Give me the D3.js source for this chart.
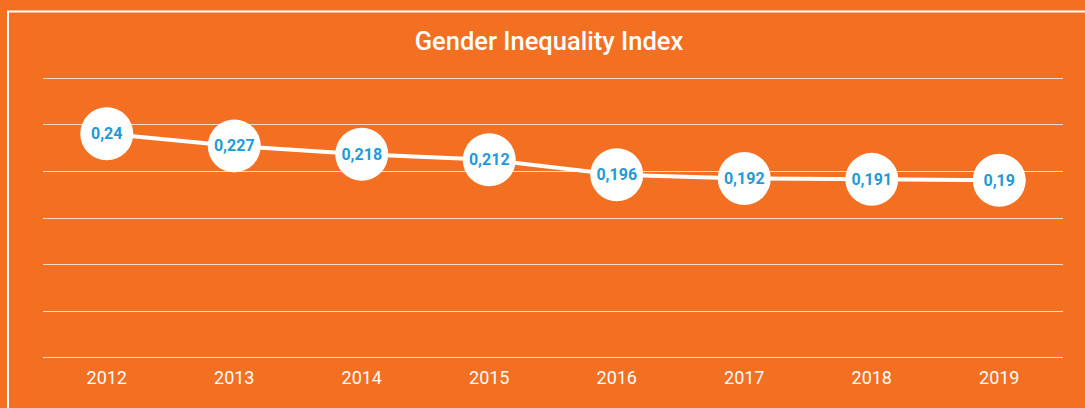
<!DOCTYPE html>
<meta charset='utf-8'>
<style>
  body { margin:0; background:#f36f21; }
  svg { display:block; font-family:Roboto, 'Open Sans', sans-serif; }
  .grid line { stroke:#fff; stroke-width:1px; stroke-opacity:.75; }
  .axis text { fill:#fff; font-size:18px; }
</style>
<body>
  <script src='https://d3js.org/d3.v7.min.js' charset='utf-8'></script>
  <script>
    var years = ['2012','2013','2014','2015','2016','2017','2018','2019'];
    var values = [0.24,0.227,0.218,0.212,0.196,0.192,0.191,0.19];
    var labels = ['0,24','0,227','0,218','0,212','0,196','0,192','0,191','0,19'];
    var gridTicks = [0,0.05,0.1,0.15,0.2,0.25,0.3];

    var width = 1085;
    var height = 408;

    var svg = d3.select('body').append('svg')
      .attr('width',width)
      .attr('height',height);

    svg.append('rect')
      .attr('x',8).attr('y',11.5)
      .attr('width',1100).attr('height',420)
      .attr('fill','none')
      .attr('stroke','#fff')
      .attr('stroke-width',2);

    svg.append('text')
      .attr('x',549).attr('y',50)
      .attr('text-anchor','middle')
      .attr('fill','#fff')
      .attr('font-size',25.5)
      .attr('font-weight',500)
      .text('Gender Inequality Index');

    var x = d3.scaleBand().domain(years).range([43,1063]).padding(0);
    var y = d3.scaleLinear().domain([0,0.3]).range([357,78]);

    // grid -----------------------------------------------------------------
    svg.append('g')
      .attr('class','grid')
      .selectAll('line')
      .data(gridTicks)
      .enter().append('line')
      .attr('x1',43).attr('x2',1063)
      .attr('y1',function(d){ return Math.round(y(d)) + .5; })
      .attr('y2',function(d){ return Math.round(y(d)) + .5; });

    var xAxis = svg.append('g')
      .attr('class','axis')
      .attr('transform','translate(0,357)')
      .call(d3.axisBottom(x).tickSize(0).tickPadding(14));
    xAxis.select('.domain').remove();
    xAxis.selectAll('text').attr('font-family','Roboto, sans-serif').attr('font-size',18);

    // line + bubbles -------------------------------------------------------
    var cx = function(d,i){ return x(years[i]) + x.bandwidth()/2; };

    svg.append('path')
      .datum(values)
      .attr('fill','none')
      .attr('stroke','#fff')
      .attr('stroke-width',4)
      .attr('d',d3.line().x(cx).y(function(d){ return y(d); }));

    svg.selectAll('circle.pt')
      .data(values)
      .enter().append('circle')
      .attr('class','pt')
      .attr('cx',cx)
      .attr('cy',function(d){ return y(d); })
      .attr('r',26.5)
      .attr('fill','#fff');

    svg.selectAll('text.lbl')
      .data(values)
      .enter().append('text')
      .attr('class','lbl')
      .attr('x',cx)
      .attr('y',function(d){ return y(d) + 5.5; })
      .attr('text-anchor','middle')
      .attr('fill','#1e9ad6')
      .attr('font-size',16)
      .attr('font-weight',700)
      .text(function(d,i){ return labels[i]; });
  </script>
</body>
